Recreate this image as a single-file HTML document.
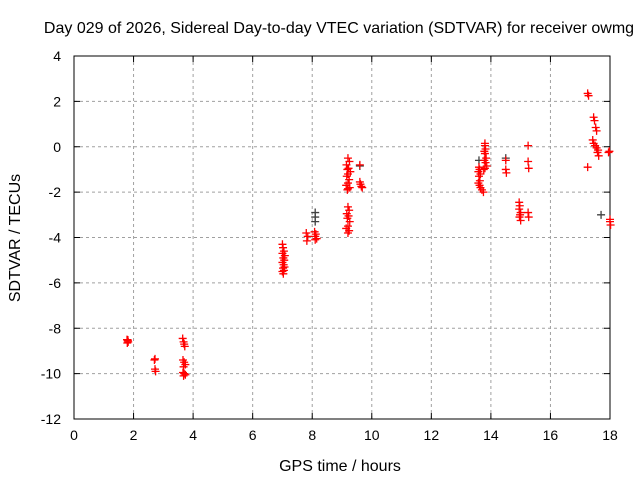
<!DOCTYPE html>
<html><head><meta charset="utf-8"><style>
body{margin:0;background:#fff}
svg{display:block;font-family:"Liberation Sans",sans-serif}
</style></head><body>
<svg id="c" width="640" height="480">
<text x="339" y="33" text-anchor="middle" font-size="16">Day 029 of 2026, Sidereal Day-to-day VTEC variation (SDTVAR) for receiver owmg</text>
<text x="340" y="471" text-anchor="middle" font-size="16">GPS time / hours</text>
<text transform="translate(20,238) rotate(-90)" text-anchor="middle" font-size="16">SDTVAR / TECUs</text>
<g id="grid"></g><g id="ticks"></g><g id="marks"></g>
</svg>
<script>
const xTicks=[0,2,4,6,8,10,12,14,16,18];
const yTicks=[4,2,0,-2,-4,-6,-8,-10,-12];
const redX=[1.78,1.80,1.82,1.79,1.81,2.72,2.70,2.72,2.74,3.65,3.68,3.70,3.72,3.66,3.70,3.74,3.68,3.66,3.70,3.74,3.68,
7.0,7.02,7.05,7.0,7.08,7.03,7.06,7.0,7.04,7.07,7.02,7.05,7.0,7.03,7.8,7.85,7.82,8.08,8.12,8.1,8.15,8.1,
9.2,9.25,9.15,9.22,9.18,9.28,9.2,9.16,9.24,9.2,9.14,9.26,9.2,9.18,9.2,9.24,9.16,9.22,9.18,9.26,9.2,9.14,9.24,9.2,
9.6,9.6,9.62,9.65,9.68,
13.6,13.62,13.58,13.65,13.6,13.63,13.58,13.62,13.65,13.7,13.75,13.8,13.8,13.82,13.78,13.8,13.84,13.78,13.82,13.86,13.8,13.76,
14.5,14.5,14.52,14.95,14.97,14.95,15.0,14.98,14.96,15.0,15.25,15.25,15.27,15.25,15.27,
17.25,17.28,17.25,17.45,17.48,17.52,17.55,17.42,17.45,17.5,17.55,17.6,17.58,17.62,17.95,17.98,18.0,18.0,18.02];
const redY=[-8.5,-8.55,-8.6,-8.65,-8.52,-9.35,-9.4,-9.8,-9.9,-8.45,-8.6,-8.7,-8.8,-9.4,-9.5,-9.6,-9.7,-9.95,-10.0,-10.05,-10.1,
-4.3,-4.45,-4.6,-4.7,-4.8,-4.9,-5.0,-5.1,-5.2,-5.3,-5.35,-5.45,-5.5,-5.6,-3.8,-3.95,-4.15,-3.75,-3.85,-3.95,-4.05,-4.1,
-0.5,-0.65,-0.8,-0.95,-1.0,-1.1,-1.2,-1.3,-1.45,-1.6,-1.7,-1.8,-1.85,-1.9,-2.65,-2.8,-2.95,-3.05,-3.15,-3.3,-3.5,-3.6,-3.7,-3.8,
-0.8,-1.55,-1.65,-1.75,-1.8,
-0.9,-1.0,-1.1,-1.2,-1.3,-1.5,-1.6,-1.7,-1.8,-1.9,-2.0,0.15,0.05,-0.1,-0.2,-0.3,-0.5,-0.6,-0.7,-0.85,-0.95,-1.0,
-0.6,-1.0,-1.15,-2.45,-2.6,-2.75,-2.9,-3.0,-3.1,-3.25,0.05,-0.65,-0.95,-2.9,-3.1,
2.35,2.25,-0.9,1.3,1.15,0.85,0.7,0.3,0.15,0.05,-0.05,-0.15,-0.25,-0.4,-0.25,-0.2,-3.2,-3.3,-3.45];
const grayX=[8.1,8.1,8.1,13.6,14.5,17.7,9.6];
const grayY=[-2.9,-3.1,-3.3,-0.6,-0.5,-3.0,-0.85];
const X0=74,X1=610,Y0=419,Y1=56;
const sx=v=>X0+(v-0)/(18-0)*(X1-X0);
const sy=v=>Y0-(v+12)/(16)*(Y0-Y1);
const NS='http://www.w3.org/2000/svg';
function mk(t,a,p){const e=document.createElementNS(NS,t);for(const k in a)e.setAttribute(k,a[k]);p.appendChild(e);return e;}
const grid=document.getElementById('grid'),tk=document.getElementById('ticks'),mg=document.getElementById('marks');
xTicks.forEach(v=>{const x=sx(v);
 if(v>0&&v<18){const g=mk('line',{x1:x,x2:x,y1:Y0,y2:Y1,stroke:'#a0a0a0','stroke-dasharray':'3,3'},grid);
 
 }
 mk('line',{x1:x,x2:x,y1:Y0,y2:Y0-6,stroke:'#000'},tk);mk('line',{x1:x,x2:x,y1:Y1,y2:Y1+6,stroke:'#000'},tk);
 const t=mk('text',{x:x,y:Y0+21,'text-anchor':'middle','font-size':14},tk);t.textContent=v;
 
 });
yTicks.forEach(v=>{const y=sy(v);
 if(v>-12&&v<4){const g=mk('line',{x1:X0,x2:X1,y1:y,y2:y,stroke:'#a0a0a0','stroke-dasharray':'3,3'},grid);
 
 }
 mk('line',{x1:X0,x2:X0+6,y1:y,y2:y,stroke:'#000'},tk);mk('line',{x1:X1,x2:X1-6,y1:y,y2:y,stroke:'#000'},tk);
 const t=mk('text',{x:X0-13,y:y+5,'text-anchor':'end','font-size':14},tk);t.textContent=v;
 
 });
const b=mk('rect',{x:X0,y:Y1,width:X1-X0,height:Y0-Y1,fill:'none',stroke:'#000'},tk);


function plus(x,y,c){const p=mk('path',{d:`M${x-4},${y}h8M${x},${y-4}v8`,stroke:c,'stroke-width':1.3,fill:'none'},mg);return p;}
grayX.forEach((v,i)=>{const p=plus(sx(v),sy(grayY[i]),'#404040');
 
 });
redX.forEach((v,i)=>{const p=plus(sx(v),sy(redY[i]),'#ff0000');
 
 });
</script>
</body></html>
